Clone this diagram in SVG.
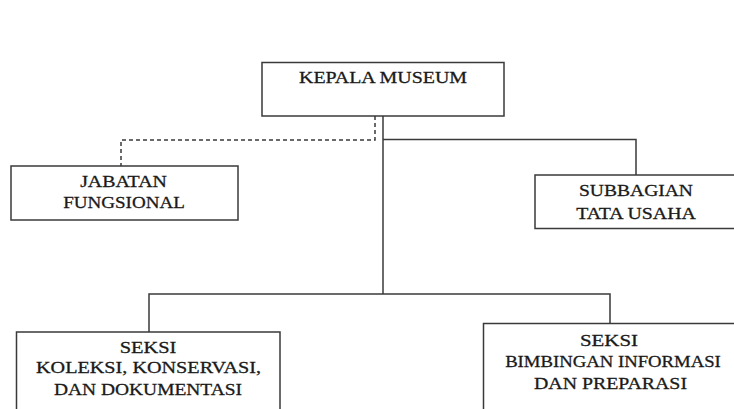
<svg xmlns="http://www.w3.org/2000/svg" width="734" height="409" viewBox="0 0 734 409">
<style>
.box{fill:#fff;stroke:#3a3a3a;stroke-width:1.5}
.ln{fill:none;stroke:#3a3a3a;stroke-width:1.5}
.dash{fill:none;stroke:#3a3a3a;stroke-width:1.5;stroke-dasharray:4 3}
text{font-family:"Liberation Serif","DejaVu Serif",serif;font-size:17.5px;fill:#1a1a1a;stroke:#1a1a1a;stroke-width:0.3;text-anchor:middle}
</style>
<rect width="734" height="409" fill="#fff"/>
<g id="connectors">
<polyline class="dash" points="375,116 375,140 121,140 121,166"/>
<polyline class="ln" points="383,116 383,294"/>
<polyline class="ln" points="383,139.5 636,139.5 636,175"/>
<polyline class="ln" points="149,332 149,294 610,294 610,323.5"/>
</g>
<g id="kepala">
<rect class="box" x="262" y="62.5" width="242" height="53.5"/>
<text x="383" y="83" textLength="168" lengthAdjust="spacingAndGlyphs">KEPALA MUSEUM</text>
</g>
<g id="jabatan">
<rect class="box" x="11" y="166" width="227" height="54"/>
<text x="123.5" y="187" textLength="86.7" lengthAdjust="spacingAndGlyphs">JABATAN</text>
<text x="124" y="208" textLength="121.7" lengthAdjust="spacingAndGlyphs">FUNGSIONAL</text>
</g>
<g id="subbagian">
<rect class="box" x="535" y="175" width="205" height="53.5"/>
<text x="636" y="196" textLength="114" lengthAdjust="spacingAndGlyphs">SUBBAGIAN</text>
<text x="636" y="219" textLength="119.7" lengthAdjust="spacingAndGlyphs">TATA USAHA</text>
</g>
<g id="seksi-koleksi">
<rect class="box" x="16.5" y="332" width="263.5" height="90"/>
<text x="148" y="353" textLength="56.7" lengthAdjust="spacingAndGlyphs">SEKSI</text>
<text x="148.5" y="373" textLength="225" lengthAdjust="spacingAndGlyphs">KOLEKSI, KONSERVASI,</text>
<text x="148" y="394.5" textLength="188" lengthAdjust="spacingAndGlyphs">DAN DOKUMENTASI</text>
</g>
<g id="seksi-bimbingan">
<rect class="box" x="483.5" y="323.5" width="260" height="100"/>
<text x="609" y="346" textLength="58" lengthAdjust="spacingAndGlyphs">SEKSI</text>
<text x="613" y="367" textLength="215.7" lengthAdjust="spacingAndGlyphs">BIMBINGAN INFORMASI</text>
<text x="610.5" y="389" textLength="153" lengthAdjust="spacingAndGlyphs">DAN PREPARASI</text>
</g>
</svg>
